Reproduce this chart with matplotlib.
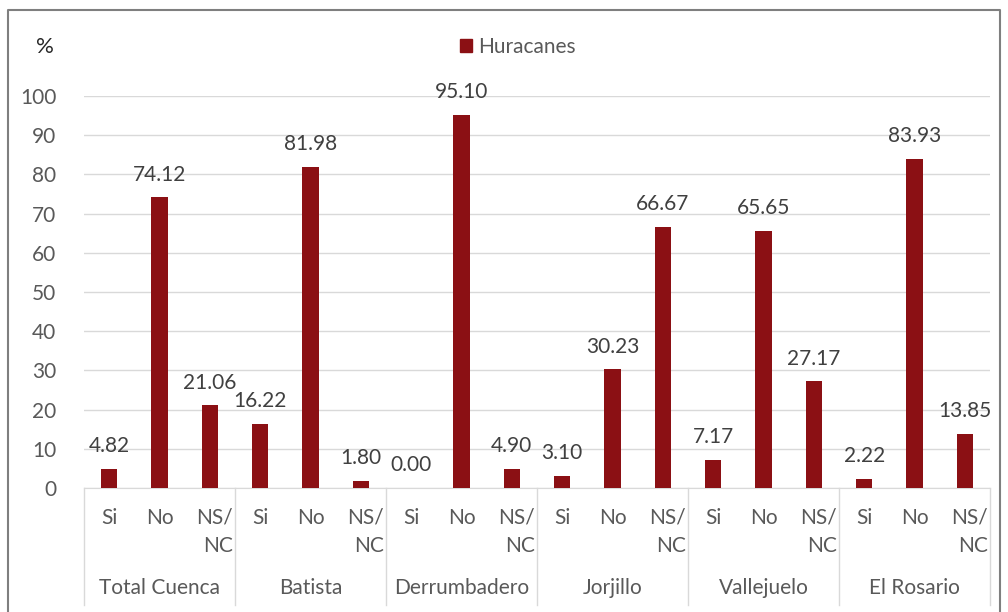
import numpy as np
import matplotlib.pyplot as plt
from matplotlib.lines import Line2D
from matplotlib.patches import Patch
import matplotlib.transforms as mtransforms

plt.rcParams['font.family'] = ['Lato', 'DejaVu Sans']

groups = ["Total Cuenca", "Batista", "Derrumbadero", "Jorjillo", "Vallejuelo", "El Rosario"]
answers = ["Si", "No", "NS/\nNC"]
huracanes = [4.82, 74.12, 21.06,
             16.22, 81.98, 1.80,
             0.00, 95.10, 4.90,
             3.10, 30.23, 66.67,
             7.17, 65.65, 27.17,
             2.22, 83.93, 13.85]
yticks = list(range(0, 101, 10))

bar_color = "#8B1014"
text_color = "#595959"
grid_color = "#D9D9D9"
fs = 15

fig = plt.figure(figsize=(10.08, 6.12), dpi=100)
ax = fig.add_axes([84 / 1008, 1 - 488 / 612, 906 / 1008, 392 / 612])

x = np.arange(len(huracanes))
ax.bar(x, huracanes, width=0.32, color=bar_color, zorder=3)
for xi, v in zip(x, huracanes):
    ax.text(xi, v + 3.3, f"{v:.2f}", ha="center", va="bottom", fontsize=fs, color="#404040")

ax.set_xlim(-0.5, len(huracanes) - 0.5)
ax.set_ylim(0, 100)
ax.set_yticks(yticks)
ax.set_yticklabels([str(t) for t in yticks], fontsize=fs, color=text_color)
ax.tick_params(axis="y", length=0, pad=20)
ax.set_xticks([])
ax.grid(axis="y", color=grid_color, linewidth=1, zorder=0)
for s in ["top", "right", "left"]:
    ax.spines[s].set_visible(False)
ax.spines["bottom"].set_color(grid_color)
ax.spines["bottom"].set_zorder(1)

trans = mtransforms.blended_transform_factory(ax.transData, ax.transAxes)
for i, xi in enumerate(x):
    ax.text(xi + (0.1 if i % 3 == 2 else 0), -20 / 392, answers[i % 3], transform=trans,
            ha="center", va="top", fontsize=fs, color=text_color,
            multialignment="right", linespacing=1.5)
for g, name in enumerate(groups):
    ax.text(g * 3 + 1, -(588 - 488) / 392, name, transform=trans, ha="center", va="center",
            fontsize=fs, color=text_color)
for g in range(len(groups) + 1):
    ax.add_line(Line2D([g * 3 - 0.5, g * 3 - 0.5], [0, -(605 - 488) / 392], transform=trans,
                       color=grid_color, linewidth=1, clip_on=False))

fig.text(45 / 1008, 1 - 47 / 612, "%", fontsize=16, color="#262626", ha="center", va="center")
fig.legend(handles=[Patch(color=bar_color)], labels=["Huracanes"], loc="center",
           bbox_to_anchor=(518 / 1008, 1 - 47 / 612), frameon=False, fontsize=fs,
           handlelength=0.6, handleheight=0.6, handletextpad=0.3, labelcolor=text_color)

# outer frame
fig.add_artist(Line2D([8 / 1008, 8 / 1008, 1000 / 1008, 1000 / 1008],
                      [0, 1 - 10 / 612, 1 - 10 / 612, 0], transform=fig.transFigure,
                      color="#7F7F7F", linewidth=1.5))

fig.savefig("out.png", dpi=100)
